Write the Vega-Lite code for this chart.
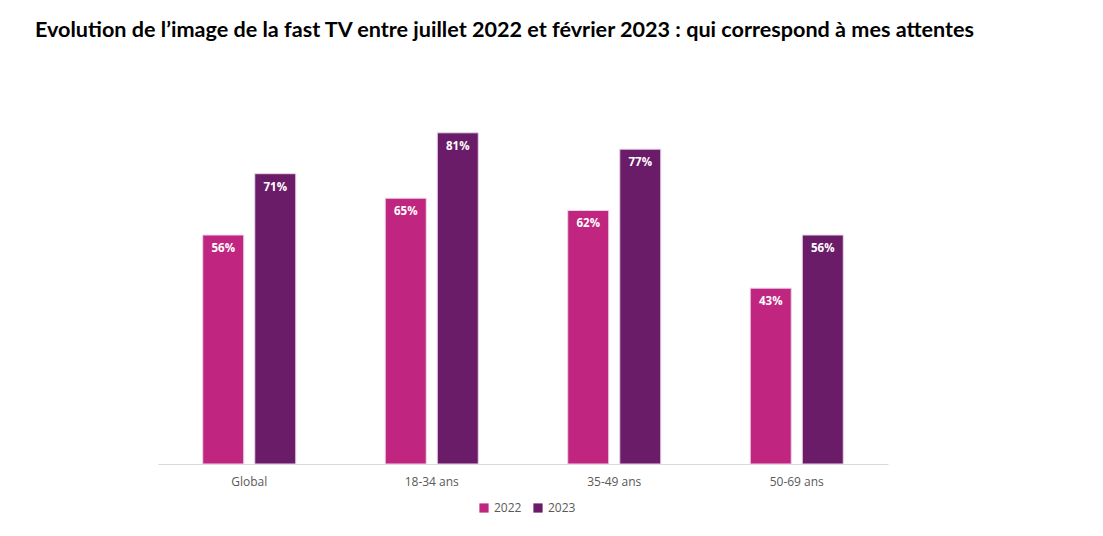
{
  "$schema": "https://vega.github.io/schema/vega-lite/v6.json",
  "width": 730,
  "height": 368,
  "autosize": {"type": "none"},
  "padding": {"left": 158, "top": 96, "right": 215, "bottom": 72},
  "background": "white",
  "title": {
    "text": "Evolution de l’image de la fast TV entre juillet 2022 et février 2023 : qui correspond à mes attentes",
    "anchor": "start",
    "frame": "group",
    "dx": -123,
    "offset": 54,
    "font": "Lato",
    "fontSize": 21.6,
    "fontWeight": "bold",
    "color": "#000000"
  },
  "data": {
    "values": [
      {"groupe": "Global", "annee": "2022", "valeur": 0.56},
      {"groupe": "Global", "annee": "2023", "valeur": 0.71},
      {"groupe": "18-34 ans", "annee": "2022", "valeur": 0.65},
      {"groupe": "18-34 ans", "annee": "2023", "valeur": 0.81},
      {"groupe": "35-49 ans", "annee": "2022", "valeur": 0.62},
      {"groupe": "35-49 ans", "annee": "2023", "valeur": 0.77},
      {"groupe": "50-69 ans", "annee": "2022", "valeur": 0.43},
      {"groupe": "50-69 ans", "annee": "2023", "valeur": 0.56}
    ]
  },
  "encoding": {
    "x": {
      "field": "groupe",
      "type": "nominal",
      "sort": ["Global", "18-34 ans", "35-49 ans", "50-69 ans"],
      "scale": {"paddingInner": 0, "paddingOuter": 0},
      "axis": {
        "title": null,
        "labelAngle": 0,
        "domainColor": "#d9d9d9",
        "domainWidth": 1,
        "ticks": false,
        "labelPadding": 12,
        "labelFont": "Open Sans",
        "labelFontSize": 12,
        "labelColor": "#595959"
      }
    },
    "xOffset": {
      "field": "annee",
      "type": "nominal",
      "scale": {"paddingInner": 0.2115, "paddingOuter": 0.86}
    },
    "y": {
      "field": "valeur",
      "type": "quantitative",
      "scale": {"domain": [0, 0.9]},
      "axis": null
    }
  },
  "layer": [
    {
      "mark": {"type": "bar", "stroke": "#e8d6ea", "strokeWidth": 1},
      "encoding": {
        "color": {
          "field": "annee",
          "type": "nominal",
          "scale": {"domain": ["2022", "2023"], "range": ["#C02680", "#6A1C68"]},
          "legend": {
            "title": null,
            "orient": "none",
            "legendX": 320,
            "legendY": 406,
            "direction": "horizontal",
            "symbolType": "square",
            "symbolSize": 85,
            "symbolStrokeWidth": 0,
            "labelFont": "Open Sans",
            "labelFontSize": 12,
            "labelColor": "#595959",
            "labelOffset": 4,
            "columnPadding": 10
          }
        }
      }
    },
    {
      "mark": {
        "type": "text",
        "baseline": "top",
        "dy": 8,
        "color": "white",
        "font": "Open Sans",
        "fontWeight": "bold",
        "fontSize": 11.5
      },
      "encoding": {
        "text": {"field": "valeur", "type": "quantitative", "format": ".0%"},
        "detail": {"field": "annee"}
      }
    }
  ],
  "config": {"view": {"stroke": null}}
}
